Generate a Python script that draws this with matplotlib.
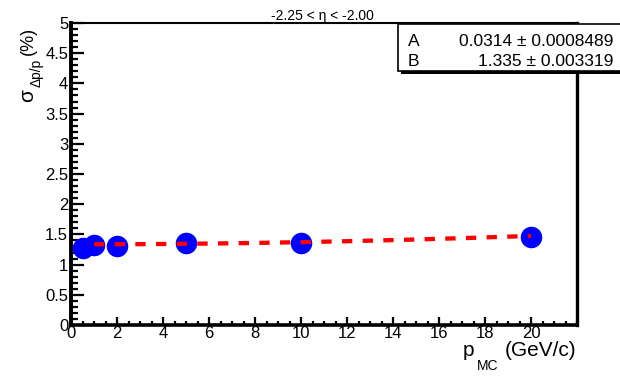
import numpy as np
import matplotlib
matplotlib.use("Agg")
import matplotlib.pyplot as plt
from matplotlib.ticker import MultipleLocator, FormatStrFormatter
from matplotlib.patches import Rectangle

plt.rcParams['font.family'] = ['Liberation Sans', 'DejaVu Sans']

# ---------------- data -----------------
p_mc = [0.5, 1, 2, 5, 10, 20]
sigma = [1.27, 1.32, 1.31, 1.36, 1.35, 1.46]

# fit parameters (resolution = sqrt((A p)^2 + B^2))
fit_A, fit_A_err = 0.0314, 0.0008489
fit_B, fit_B_err = 1.335, 0.003319
fit_range = (1, 20)

x_ticks = [0, 2, 4, 6, 8, 10, 12, 14, 16, 18, 20]
title = "-2.25 < \u03b7 < -2.00"

# ---------------- figure -----------------
W, H = 620, 377
fig = plt.figure(figsize=(W / 100, H / 100), dpi=100)

def fx(px):
    return px / W

def fy(py):
    return 1 - py / H

ax = fig.add_axes([fx(71), fy(325), fx(577) - fx(71), fy(23) - fy(325)])

ax.plot(p_mc, sigma, 'o', color='#0000ff', ms=15.5, mec='none', zorder=3)

pf = np.linspace(fit_range[0], fit_range[1], 200)
ax.plot(pf, np.sqrt((fit_A * pf) ** 2 + fit_B ** 2), color='#ff0000', lw=3.1,
        dashes=(2.4, 2.4), dash_capstyle='butt', zorder=4)

ax.set_xlim(0, 22)
ax.set_ylim(0, 5)

ax.set_xticks(x_ticks)
ax.xaxis.set_minor_locator(MultipleLocator(0.5))
ax.yaxis.set_major_locator(MultipleLocator(0.5))
ax.yaxis.set_minor_locator(MultipleLocator(0.1))
ax.xaxis.set_major_formatter(FormatStrFormatter('%g'))
ax.yaxis.set_major_formatter(FormatStrFormatter('%g'))

ax.tick_params(axis='both', which='both', direction='in', top=False, right=False,
               width=1.6, labelsize=12)
ax.tick_params(axis='y', which='major', length=9.5, pad=2)
ax.tick_params(axis='y', which='minor', length=5)
ax.tick_params(axis='x', which='major', length=5.5, pad=1)
ax.tick_params(axis='x', which='minor', length=3)

for side, w in [('left', 2.8), ('bottom', 2.6), ('right', 2.4), ('top', 1.5)]:
    ax.spines[side].set_linewidth(w)

# title
fig.text(fx(322), fy(20), title, ha='center', va='baseline', fontsize=10)

# x axis title, drawn in pieces (ROOT style subscript)
fig.text(fx(576), fy(356), "(GeV/c)", ha='right', va='baseline', fontsize=15)
fig.text(fx(498), fy(370), "MC", ha='right', va='baseline', fontsize=10)
fig.text(fx(474), fy(356), "p", ha='right', va='baseline', fontsize=15)

# y axis title, rotated pieces
rot = dict(rotation=90, rotation_mode='anchor', va='baseline', ha='right')
fig.text(fx(33), fy(27), "(%)", fontsize=13, **rot)
fig.text(fx(41), fy(59), "\u0394p/p", fontsize=10, **rot)
fig.text(fx(33), fy(89), "\u03c3", fontsize=15, **rot)

# stats box with shadow
fig.patches.append(Rectangle((fx(401), fy(74)), fx(640) - fx(401), fy(27) - fy(74),
                             transform=fig.transFigure, facecolor='black',
                             edgecolor='none', zorder=5))
fig.patches.append(Rectangle((fx(398), fy(71)), fx(637) - fx(398), fy(24) - fy(71),
                             transform=fig.transFigure, facecolor='white',
                             edgecolor='black', lw=1.2, zorder=6))
rows = [("A", fit_A, fit_A_err, 41), ("B", fit_B, fit_B_err, 62)]
for name, val, err, yc in rows:
    fig.text(fx(408), fy(yc), name, ha='left', va='center', fontsize=12.5, zorder=7)
    fig.text(fx(613), fy(yc), f"{val} \u00b1 {err}", ha='right', va='center',
             fontsize=12.5, zorder=7)

fig.savefig("out.png", dpi=100)
